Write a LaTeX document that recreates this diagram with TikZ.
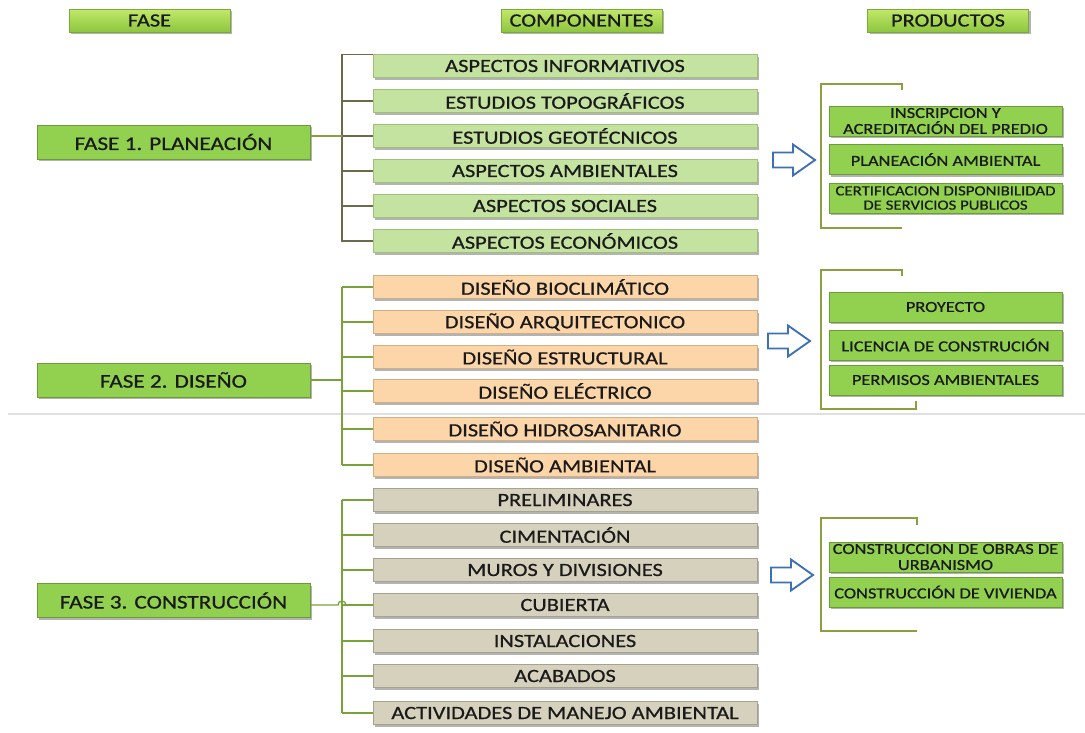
\documentclass[tikz,border=0pt]{standalone}
\usepackage{fontspec}
\setmainfont{Carlito}[FakeStretch=1.2,FakeBold=0.7]
\usepackage{xcolor}
\definecolor{hdrtop}{HTML}{C2E86A}
\definecolor{hdrbot}{HTML}{8DC63F}
\definecolor{hdrline}{HTML}{7BA93A}
\definecolor{fasegreen}{HTML}{92D050}
\definecolor{faseline}{HTML}{6E9A3A}
\definecolor{planfill}{HTML}{C4E2A0}
\definecolor{planline}{HTML}{A0C07A}
\definecolor{disfill}{HTML}{FCD5A8}
\definecolor{disline}{HTML}{D2AE84}
\definecolor{confill}{HTML}{D5D1BD}
\definecolor{conline}{HTML}{A6A290}
\definecolor{olivegray}{HTML}{6B6B4B}
\definecolor{olivegreen}{HTML}{8AA040}
\definecolor{branchgreen}{HTML}{77A33A}
\definecolor{arrowblue}{HTML}{3D70B5}
\definecolor{textdark}{HTML}{1A1A1A}
\usepackage{tikz}
\usetikzlibrary{shadows,calc}

\begin{document}
\begin{tikzpicture}[x=0.75pt, y=-0.75pt,
    shadowed/.style={drop shadow={shadow xshift=1.6pt, shadow yshift=-1.6pt, fill=black!50, opacity=0.6}},
    header/.style={rectangle, shadowed, draw=hdrline, top color=hdrtop, bottom color=hdrbot, minimum width=120.75pt, minimum height=17.25pt, inner sep=0pt, font=\fontsize{14}{15}\selectfont, text=textdark},
    fase/.style={rectangle, shadowed, draw=faseline, fill=fasegreen, minimum width=204.75pt, minimum height=25.5pt, inner sep=0pt, font=\fontsize{14.5}{15}\selectfont, text=textdark},
    comp/.style={rectangle, shadowed, minimum width=288pt, minimum height=17.25pt, inner sep=0pt, font=\fontsize{14}{15}\selectfont, text=textdark},
    plan/.style={comp, draw=planline, fill=planfill},
    dis/.style={comp, draw=disline, fill=disfill},
    con/.style={comp, draw=conline, fill=confill},
    prod/.style={rectangle, shadowed, draw=faseline, fill=fasegreen, minimum width=174.75pt, minimum height=22.5pt, inner sep=0pt, align=center, font=\fontsize{11.5}{12}\selectfont, text=textdark},
    trunkP/.style={olivegray, line width=0.9pt},
    trunkG/.style={branchgreen, line width=1pt},
    bracket/.style={olivegreen, line width=1pt},
    blockarrow/.style={arrowblue, line width=1.4pt, fill=white, line join=miter}
  ]
    \useasboundingbox (0,0) rectangle (1085,732);

    % headers
    \node[header] (hfase) at (149.5,20.5) {FASE};
    \node[header] (hcomp) at (581.5,20.5) {COMPONENTES};
    \node[header] (hprod) at (948,20.5) {PRODUCTOS};

    % page break line
    \draw[black!12, line width=0.8pt] (8,414) -- (1085,414);

    % phases
    \node[fase] (f1) at (173.5,142) {FASE 1. PLANEACIÓN};
    \node[fase] (f2) at (173.5,380) {FASE 2. DISEÑO};
    \node[fase] (f3) at (173.5,600.5) {FASE 3. CONSTRUCCIÓN};
    \coordinate (tk) at (342,0);

    % fase 1
    \foreach \y/\name [count=\i] in {
      66/ASPECTOS INFORMATIVOS,
      101/ESTUDIOS TOPOGRÁFICOS,
      136/ESTUDIOS GEOTÉCNICOS,
      171/ASPECTOS AMBIENTALES,
      206/ASPECTOS SOCIALES,
      241/ASPECTOS ECONÓMICOS
    } {
      \node[plan] (p\i) at (565,\y) {\name};
    }
    \draw[trunkP] (p1.north west) -- (p1.north west -| tk) -- (p6.west -| tk) -- (p6.west);
    \foreach \i in {2,...,5} \draw[trunkP] (p\i.west -| tk) -- (p\i.west);
    \draw[trunkP, olivegreen] (f1.east |- p3.west) -- (p3.west -| tk);

    % fase 2
    \foreach \y/\name [count=\i] in {
      287/DISEÑO BIOCLIMÁTICO,
      322/DISEÑO ARQUITECTONICO,
      357/DISEÑO ESTRUCTURAL,
      391/DISEÑO ELÉCTRICO,
      429/DISEÑO HIDROSANITARIO,
      465/DISEÑO AMBIENTAL
    } {
      \node[dis] (d\i) at (565,\y) {\name};
      \draw[trunkG] (d\i.west -| tk) -- (d\i.west);
    }
    \draw[trunkG] (d1.west -| tk) -- (d6.west -| tk);
    \draw[trunkG] (f2.east) -- (f2.east -| tk);

    % fase 3
    \foreach \y/\name [count=\i] in {
      500/PRELIMINARES,
      535/CIMENTACIÓN,
      570/MUROS Y DIVISIONES,
      605/CUBIERTA,
      641/INSTALACIONES,
      676/ACABADOS,
      713/ACTIVIDADES DE MANEJO AMBIENTAL
    } {
      \node[con] (c\i) at (565,\y) {\name};
      \draw[trunkG] (c\i.west -| tk) -- (c\i.west);
    }
    \draw[trunkG] (c1.west -| tk) -- (c7.west -| tk);
    \draw[trunkG] (f3.east |- c4.west) -- ($(c4.west -| tk)+(-3pt,0)$)
      arc[start angle=180, end angle=0, radius=3pt] -- (c4.west);

    % productos
    \node[prod] (pp1) at (945.5,121) {INSCRIPCION Y\\ACREDITACIÓN DEL PREDIO};
    \node[prod] (pp2) at (945.5,159.5) {PLANEACIÓN AMBIENTAL};
    \node[prod, font=\fontsize{10.5}{10.7}\selectfont] (pp3) at (945.5,198) {CERTIFICACION DISPONIBILIDAD\\DE SERVICIOS PUBLICOS};
    \node[prod] (dp1) at (945.5,307) {PROYECTO};
    \node[prod] (dp2) at (945.5,345) {LICENCIA DE CONSTRUCIÓN};
    \node[prod] (dp3) at (945.5,380) {PERMISOS AMBIENTALES};
    \node[prod] (cp1) at (945.5,557) {CONSTRUCCION DE OBRAS DE\\URBANISMO};
    \node[prod] (cp2) at (945.5,592) {CONSTRUCCIÓN DE VIVIENDA};

    % brackets
    \draw[bracket] (902,90) -- (902,84) -- (821,84) -- (821,228) -- (902,228);
    \draw[bracket] (902,276) -- (902,270) -- (821,270) -- (821,409) -- (916,409) -- (916,401);
    \draw[bracket] (917,525) -- (917,518) -- (821,518) -- (821,631) -- (917,631);

    % arrows
    \foreach \ax/\ay in {773/160, 768/341, 771/575}
      \draw[blockarrow] (\ax,\ay-7.5) -- ++(20,0) -- ++(0,-8) -- ++(22,15.5)
        -- ++(-22,15.5) -- ++(0,-8) -- ++(-20,0) -- cycle;
  \end{tikzpicture}
\end{document}
